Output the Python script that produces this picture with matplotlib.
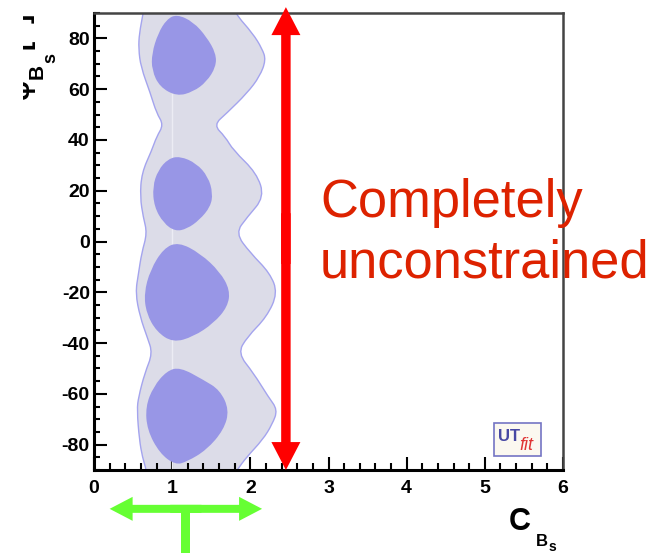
import numpy as np
import matplotlib
matplotlib.use("Agg")
import matplotlib.pyplot as plt
from matplotlib.path import Path
from matplotlib.patches import PathPatch, Rectangle
from matplotlib.ticker import MultipleLocator

plt.rcParams["axes.unicode_minus"] = False
plt.rcParams["font.family"] = ["Liberation Sans", "DejaVu Sans"]

# ---- allowed region in the (C_Bs, phi_Bs) plane ----
# outer (95%) region: right edge from top to bottom, left edge from bottom to top
outer_right_y = [100, 90, 82, 76, 71.5, 65, 58.5, 50.6, 45.9, 41.2, 36, 27, 17.5, 9.6, 3.3,
                 -4.5, -12.4, -20.3, -29.7, -37.6, -44, -51.8, -61.2, -66.3, -72, -78, -85, -90, -100]
outer_right_x = [1.66, 1.80, 2.03, 2.15, 2.20, 2.12, 1.96, 1.70, 1.53, 1.68, 1.78, 2.08, 2.18, 1.96, 1.81,
                 2.00, 2.25, 2.35, 2.21, 1.96, 1.84, 2.04, 2.23, 2.35, 2.28, 2.16, 1.95, 1.83, 1.62]
outer_left_y = [-100, -90, -85, -78, -66.3, -61.2, -51.8, -44, -37.6, -29.7, -20.3, -12.4, -4.5,
                3.3, 9.6, 17.5, 27, 36, 41.2, 46, 50.6, 58.5, 68.7, 76, 82, 90, 100]
outer_left_x = [0.72, 0.67, 0.62, 0.58, 0.55, 0.57, 0.65, 0.75, 0.68, 0.59, 0.53, 0.57, 0.61,
                0.68, 0.63, 0.59, 0.61, 0.74, 0.80, 0.89, 0.80, 0.72, 0.60, 0.57, 0.58, 0.63, 0.68]

# inner (68%) islands
blob1_x = [1.06, 1.27, 1.44, 1.56, 1.56, 1.44, 1.27, 1.06, 0.84, 0.74, 0.74, 0.82, 0.93]
blob1_y = [89.5, 86.5, 80.6, 74.1, 68.8, 62.9, 59.0, 57.2, 60.9, 67.5, 74.1, 82.0, 87.5]
blob2_x = [1.10, 1.31, 1.46, 1.52, 1.49, 1.35, 1.19, 1.04, 0.89, 0.77, 0.75, 0.82, 0.95]
blob2_y = [33.6, 30.8, 25.5, 19.0, 13.7, 8.5, 5.0, 4.0, 7.2, 13.7, 21.6, 28.1, 32.6]
blob3_x = [1.08, 1.36, 1.61, 1.74, 1.71, 1.53, 1.27, 1.01, 0.80, 0.67, 0.64, 0.72, 0.89]
blob3_y = [-0.2, -4.7, -11.9, -19.1, -25.7, -32.2, -37.5, -39.8, -35.5, -28.3, -20.4, -11.2, -2.7]
blob4_x = [1.10, 1.40, 1.61, 1.73, 1.66, 1.44, 1.19, 1.04, 0.84, 0.68, 0.66, 0.76, 0.93]
blob4_y = [-49.5, -54.5, -58.5, -66.3, -74.2, -82.1, -86.7, -88.0, -83.4, -74.2, -65.0, -57.2, -51.0]

x_ticks = [0, 1, 2, 3, 4, 5, 6]
y_ticks = [-80, -60, -40, -20, 0, 20, 40, 60, 80]

# annotation arrows (data coordinates)
red_arrow_x = 2.455
red_arrow_y = (-90.0, 92.3)
green_arrow_y = -105.3
green_arrow_x = (0.20, 2.15)
green_stem_bottom = -123.0

W, H = 658, 553


def P(px, py):
    """pixel position -> figure fraction"""
    return px / W, 1 - py / H


def smooth_closed(xs, ys):
    pts = np.column_stack([xs, ys])
    mids = (pts + np.roll(pts, -1, axis=0)) / 2
    verts = [mids[-1]]
    codes = [Path.MOVETO]
    for i in range(len(pts)):
        verts += [pts[i], mids[i]]
        codes += [Path.CURVE3, Path.CURVE3]
    verts.append(verts[0])
    codes.append(Path.CLOSEPOLY)
    return Path(verts, codes)


fig = plt.figure(figsize=(W / 100, H / 100), dpi=100)
ax = fig.add_axes([94 / W, 1 - 470 / H, (563 - 94) / W, (470 - 13) / H])
ax.set_xlim(0, 6)
ax.set_ylim(-90, 90)

outer = smooth_closed(outer_right_x + outer_left_x, outer_right_y + outer_left_y)
ax.add_patch(PathPatch(outer, facecolor="#dcdce8", edgecolor="#a4a4ee", lw=1.0, zorder=1))
ax.plot([1, 1], [-90, 58], color="#ececf4", lw=1.0, zorder=2)
for bx, by in [(blob1_x, blob1_y), (blob2_x, blob2_y), (blob3_x, blob3_y), (blob4_x, blob4_y)]:
    ax.add_patch(PathPatch(smooth_closed(bx, by), facecolor="#9896e6", edgecolor="none", zorder=3))

# axes frame and ticks
for side in ("left", "bottom"):
    ax.spines[side].set_linewidth(2.2)
    ax.spines[side].set_color("black")
for side in ("top", "right"):
    ax.spines[side].set_linewidth(1.8)
    ax.spines[side].set_color("#444444")
ax.set_xticks(x_ticks)
ax.set_yticks(y_ticks)
ax.set_xticklabels([str(v) for v in x_ticks])
ax.set_yticklabels([str(v) for v in y_ticks])
ax.xaxis.set_minor_locator(MultipleLocator(0.2))
ax.yaxis.set_minor_locator(MultipleLocator(5))
ax.tick_params(axis="both", which="both", direction="in", width=1.5, top=False, right=False)
ax.tick_params(axis="x", which="major", length=9.5, pad=7)
ax.tick_params(axis="x", which="minor", length=5)
ax.tick_params(axis="y", which="major", length=9.5, pad=3)
ax.tick_params(axis="y", which="minor", length=4)
for lab in ax.get_xticklabels() + ax.get_yticklabels():
    lab.set_fontsize(14)
    lab.set_fontweight("bold")

# red double arrow: two halves from the middle, overlapping a little so no seam shows
y0, y1 = red_arrow_y
ymid = (y0 + y1) / 2
for ystart, yend in [(ymid - 10, y1), (ymid + 10, y0)]:
    ax.arrow(red_arrow_x, ystart, 0, yend - ystart, width=0.121, head_width=0.371, head_length=11.0,
             length_includes_head=True, color="#ff0000", lw=0, clip_on=False, zorder=6)

# green double arrow with stem
x0, x1 = green_arrow_x
xmid = (x0 + x1) / 2
for xstart, xend in [(xmid - 0.2, x1), (xmid + 0.2, x0)]:
    ax.arrow(xstart, green_arrow_y, xend - xstart, 0, width=3.15, head_width=9.45, head_length=0.294,
             length_includes_head=True, color="#66ff33", lw=0, clip_on=False, zorder=6)
ax.add_patch(Rectangle((xmid - 0.0575, green_stem_bottom), 0.115, green_arrow_y - green_stem_bottom + 1,
                       facecolor="#66ff33", edgecolor="none", clip_on=False, zorder=6))

# statement text
txt_kw = dict(fontsize=37.8, color="#dd2200", ha="left", va="baseline")
fig.text(*P(320, 217), "Completely", **txt_kw)
fig.text(*P(320, 277), "unconstrained", **txt_kw)

# UTfit logo
ax.add_patch(Rectangle((0.853, 0.031), 0.100, 0.072, transform=ax.transAxes,
                       facecolor="#fbf8f0", edgecolor="#7474c4", lw=1.2, zorder=5))
fig.text(*P(498, 441), "UT", fontsize=12, fontweight="bold", color="#4848a4",
         ha="left", va="baseline", zorder=7)
fig.text(*P(519, 450), "fit", fontsize=13, fontstyle="italic", color="#e03434",
         ha="left", va="baseline", zorder=7)

# x-axis title C_Bs
fig.text(*P(509, 530), "C", fontsize=22, fontweight="bold", ha="left", va="baseline")
fig.text(*P(536, 546), "B", fontsize=12, fontweight="bold", ha="left", va="baseline")
fig.text(*P(548.5, 551), "s", fontsize=10, fontweight="bold", ha="left", va="baseline")

# y-axis title phi_Bs [deg]
yl_kw = dict(rotation=90, rotation_mode="anchor", ha="left", va="baseline", fontweight="bold")
fig.text(*P(29, 99), "\u03c6", fontsize=20, **yl_kw)
fig.text(*P(43, 79), "B", fontsize=15, **yl_kw)
fig.text(*P(55, 63), "s", fontsize=13, **yl_kw)
fig.text(*P(29, 49), "[", fontsize=20, **yl_kw)
fig.text(*P(22, 38), "\u00b0", fontsize=14, **yl_kw)
fig.text(*P(29, 23), "]", fontsize=20, **yl_kw)
fig.patches.append(Rectangle((0, 1 - 110 / H), 23 / W, 110 / H, transform=fig.transFigure,
                             facecolor="white", edgecolor="none", zorder=20))

fig.savefig("out.png", dpi=100, facecolor="white")
